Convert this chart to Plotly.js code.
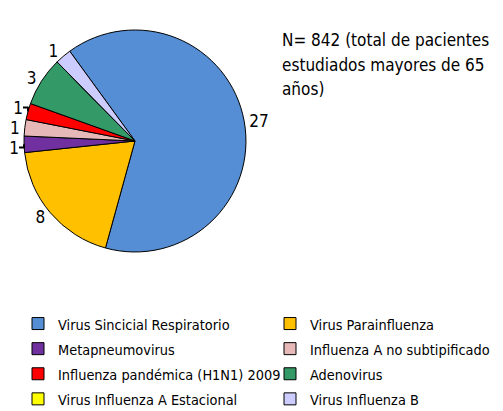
<!DOCTYPE html>
<html><head><meta charset="utf-8">
<script src="https://cdn.plot.ly/plotly-3.0.1.min.js"></script>
<style>html,body{margin:0;padding:0;background:#fff;}#chart{width:503px;height:411px;}</style>
</head><body><div id="chart"></div>
<script>
const categories = ["Virus Sincicial Respiratorio","Virus Parainfluenza","Metapneumovirus","Influenza A no subtipificado","Influenza pandémica (H1N1) 2009","Adenovirus","Virus Influenza A Estacional","Virus Influenza B"];
const counts = [27, 8, 1, 1, 1, 3, 0, 1];
const sliceColors = ["#558ed5","#ffc000","#7030a0","#e6b9b8","#ff0000","#339966","#ffff00","#ccccff"];
const noteLines = ["N= 842 (total de pacientes","estudiados mayores de 65","años)"];
const FONT = "DejaVu Sans Condensed, DejaVu Sans, sans-serif";

const legendLabels = categories.map(c => '<span style="font-size:14.4px">' + c + '</span>');
const sliceText = counts.map(v => v > 0 ? String(v) : "");

const data = [{
  type: "pie",
  labels: legendLabels,
  values: counts,
  text: sliceText,
  sort: false,
  direction: "clockwise",
  rotation: -36,
  marker: {colors: sliceColors, line: {color: "#000", width: 1}},
  textinfo: "text",
  textposition: "outside",
  outsidetextfont: {family: FONT, size: 17, color: "#000"},
  domain: {x: [0.0477, 0.489], y: [0.3869, 0.927]},
  hoverinfo: "value",
  automargin: false
}];
const layout = {
  width: 503, height: 411,
  margin: {l: 0, r: 0, t: 0, b: 0, autoexpand: false},
  paper_bgcolor: "#fff",
  font: {family: FONT, color: "#000"},
  showlegend: true,
  legend: {
    orientation: "h", x: 18/503, y: 1 - 306/411, xanchor: "left", yanchor: "top",
    entrywidth: 207, entrywidthmode: "pixels",
    font: {family: FONT, size: 17, color: "#000"},
    itemwidth: 30, traceorder: "normal"
  },
  annotations: [{
    text: noteLines.map(s => '<span style="font-size:17px">' + s + '</span>').join("<br>"),
    showarrow: false, xref: "paper", yref: "paper",
    x: 280/503, y: 1 - 28/411, xanchor: "left", yanchor: "top", align: "left",
    font: {family: FONT, size: 19, color: "#000"}
  }]
};
Plotly.newPlot("chart", data, layout, {displayModeBar: false, staticPlot: true});
</script></body></html>
